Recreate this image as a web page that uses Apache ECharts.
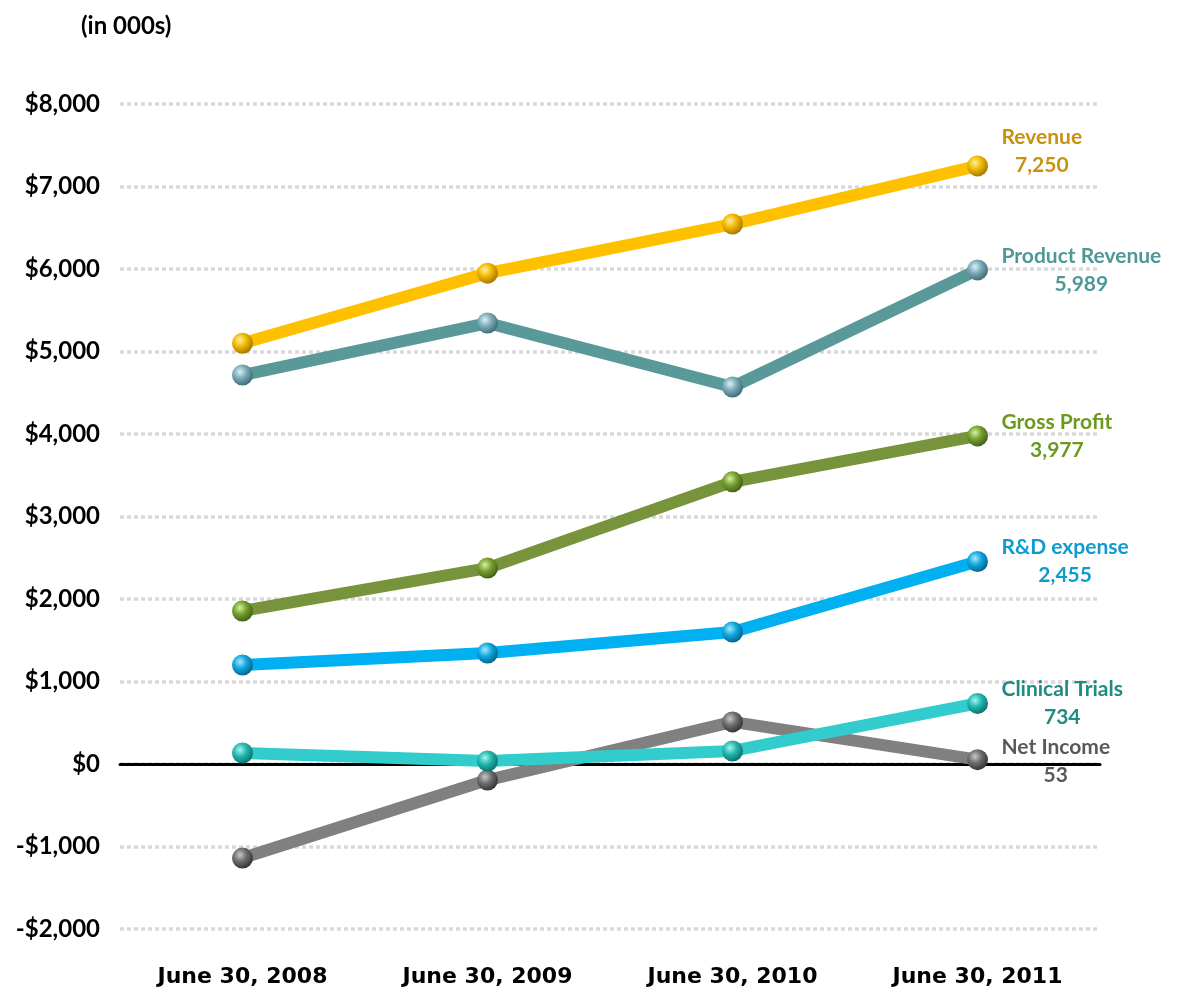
<!DOCTYPE html>
<html>
<head>
<meta charset="utf-8">
<script src="https://cdn.jsdelivr.net/npm/echarts@6/dist/echarts.min.js"></script>
<style>
  html, body { margin: 0; padding: 0; background: #fff; }
  #chart { width: 1178px; height: 994px; }
</style>
</head>
<body>
<div id="chart"></div>
<script>
const categories = ["June 30, 2008", "June 30, 2009", "June 30, 2010", "June 30, 2011"];

const revenue = [5100, 5950, 6545, 7250];
const productRevenue = [4715, 5345, 4570, 5989];
const grossProfit = [1855, 2375, 3420, 3977];
const rdExpense = [1200, 1345, 1600, 2455];
const netIncome = [-1140, -195, 510, 53];
const clinicalTrials = [133, 36, 158, 734];

const yTicks = { min: -2000, max: 8000, interval: 1000 };

const FONT = "Lato, 'Open Sans', sans-serif";
const WIDE_FONT = "'DejaVu Sans', Lato, sans-serif";

// sphere-like marker fill
function sphere(base, light, dark) {
  return new echarts.graphic.RadialGradient(0.38, 0.35, 0.7, [
    { offset: 0, color: light },
    { offset: 0.45, color: base },
    { offset: 1, color: dark }
  ]);
}

function makeSeries(name, data, cfg) {
  return {
    name: name,
    type: "line",
    data: data,
    symbol: "circle",
    symbolSize: 21,
    z: cfg.z || 2,
    lineStyle: { color: cfg.line, width: 12 },
    itemStyle: { color: sphere(cfg.ball, cfg.light, cfg.dark) },
    emphasis: { disabled: true },
    endLabel: {
      show: true,
      distance: 24,
      offset: cfg.offset || [0, 0],
      formatter: (p) => "{n|" + name + "}\n{v|" + p.value.toLocaleString("en-US") + "}",
      rich: {
        n: { align: "center", color: cfg.label, fontFamily: FONT, fontWeight: "bold", fontSize: 21, lineHeight: 28 },
        v: { align: "center", color: cfg.label, fontFamily: FONT, fontWeight: "bold", fontSize: 21, lineHeight: 28 }
      }
    }
  };
}

const chart = echarts.init(document.getElementById("chart"), null, { renderer: "canvas" });

const option = {
  animation: false,
  backgroundColor: "#ffffff",
  title: {
    text: "(in 000s)",
    left: 76,
    top: 9,
    textStyle: { fontFamily: FONT, fontWeight: "bold", fontSize: 24, color: "#000" }
  },
  grid: {
    left: 120,
    right: 78,
    top: 104,
    bottom: 65,
    containLabel: false,
    outerBoundsMode: "none"
  },
  xAxis: {
    type: "category",
    data: categories,
    boundaryGap: true,
    axisLine: { show: true, onZero: true, lineStyle: { color: "#000", width: 3 } },
    axisTick: { show: false },
    axisLabel: {
      margin: 37,
      color: "#000",
      fontFamily: WIDE_FONT,
      fontWeight: "bold",
      fontSize: 22
    },
    splitLine: { show: false }
  },
  yAxis: {
    type: "value",
    min: yTicks.min,
    max: yTicks.max,
    interval: yTicks.interval,
    axisLine: { show: false },
    axisTick: { show: false },
    axisLabel: {
      margin: 20,
      color: "#000",
      fontFamily: FONT,
      fontWeight: "bold",
      fontSize: 24,
      formatter: (v) => (v < 0 ? "-$" : "$") + Math.abs(v).toLocaleString("en-US")
    },
    splitLine: {
      show: true,
      lineStyle: { color: "#d9d9d9", width: 3.5, type: [4, 3] }
    }
  },
  series: [
    makeSeries("Revenue", revenue, {
      line: "#FFC000", ball: "#F2B800", light: "#FFF0A0", dark: "#9C7400",
      label: "#C9920E", offset: [0, -15]
    }),
    makeSeries("Product Revenue", productRevenue, {
      line: "#5A9999", ball: "#7AAAB8", light: "#DDF0F5", dark: "#3D6670",
      label: "#4F9898"
    }),
    makeSeries("Gross Profit", grossProfit, {
      line: "#77933C", ball: "#77A030", light: "#D8F0A0", dark: "#3F5A14",
      label: "#6A9A1C"
    }),
    makeSeries("R&D expense", rdExpense, {
      line: "#00B0F0", ball: "#10A8E0", light: "#A8E8FF", dark: "#045E85",
      label: "#0E9BD0"
    }),
    makeSeries("Net Income", netIncome, {
      line: "#808080", ball: "#6E6E6E", light: "#C8C8C8", dark: "#2E2E2E",
      label: "#595959", offset: [0, 2]
    }),
    makeSeries("Clinical Trials", clinicalTrials, {
      line: "#33CCCC", ball: "#22B8B0", light: "#A8F5EE", dark: "#0C6B66",
      label: "#1E8C80", z: 3
    })
  ]
};

chart.setOption(option);
window.addEventListener("resize", () => chart.resize());
</script>
</body>
</html>
